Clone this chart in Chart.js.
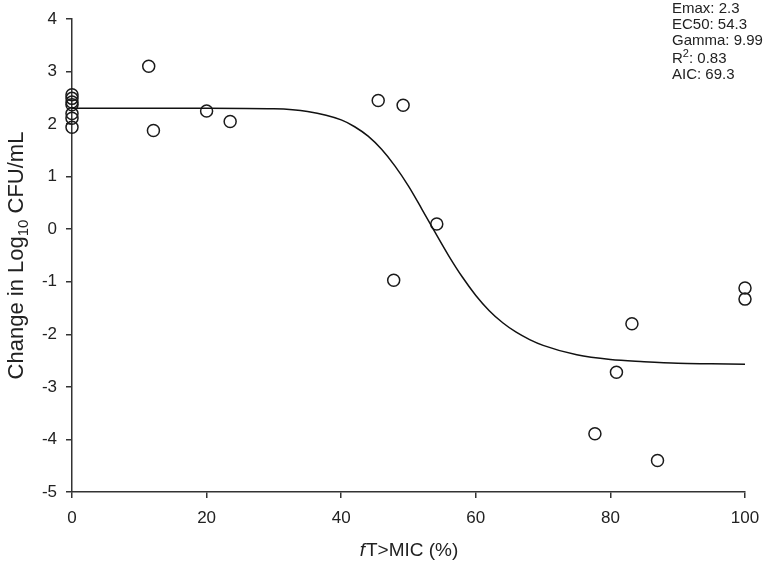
<!DOCTYPE html>
<html>
<head>
<meta charset="utf-8">
<script src="https://cdn.jsdelivr.net/npm/chart.js@4.4.0/dist/chart.umd.min.js"></script>
<style>
  html, body { margin:0; padding:0; background:#fff; }
  #wrap { width:766px; height:566px; position:relative; }
</style>
</head>
<body>
<div id="wrap"><canvas id="c" width="766" height="566"></canvas></div>
<script>
// observed data: fT>MIC (%) vs change in log10 CFU/mL
const obsX = [0, 0, 0, 0, 0, 0, 0, 11.4, 12.1, 20.0, 23.5, 45.5, 49.2, 54.2, 47.8, 77.7, 80.9, 83.2, 87.0, 100, 100];
const obsY = [2.56, 2.49, 2.42, 2.37, 2.20, 2.11, 1.94, 3.10, 1.88, 2.25, 2.05, 2.45, 2.36, 0.10, -0.97, -3.89, -2.72, -1.80, -4.40, -1.12, -1.33];

// fitted sigmoid Emax curve
const fitX = [0, 10, 20, 30, 35, 40, 42, 44, 46, 48, 50, 52, 54, 56, 58, 60, 62, 64, 66, 68, 70, 75, 80, 85, 90, 95, 100];
const fitY = [2.30, 2.30, 2.30, 2.29, 2.24, 2.08, 1.95, 1.77, 1.52, 1.20, 0.82, 0.38, -0.07, -0.51, -0.91, -1.26, -1.55, -1.78, -1.96, -2.10, -2.21, -2.39, -2.48, -2.52, -2.55, -2.56, -2.57];

const xTicks = [0, 20, 40, 60, 80, 100];
const yTicks = [-5, -4, -3, -2, -1, 0, 1, 2, 3, 4];
const statLines = ['Emax: 2.3', 'EC50: 54.3', 'Gamma: 9.99', 'R2: 0.83', 'AIC: 69.3'];

const FONT = '"Liberation Sans", Arial, sans-serif';
const INK = '#222';

const labelsPlugin = {
  id: 'labels',
  afterDraw(chart){
    const ctx = chart.ctx;
    const area = chart.chartArea;
    ctx.save();
    ctx.fillStyle = INK;
    ctx.textBaseline = 'alphabetic';

    // x title with italic f
    ctx.font = 'italic 19px ' + FONT;
    const fW = ctx.measureText('f').width;
    ctx.font = '19px ' + FONT;
    const rest = 'T>MIC (%)';
    const rW = ctx.measureText(rest).width;
    const cx = (area.left + area.right) / 2;
    let x0 = cx - (fW + rW) / 2;
    ctx.font = 'italic 19px ' + FONT;
    ctx.textAlign = 'left';
    ctx.fillText('f', x0, 556);
    ctx.font = '19px ' + FONT;
    ctx.fillText(rest, x0 + fW + 1, 556);

    // y title rotated with subscript 10
    ctx.save();
    ctx.translate(23, (area.top + area.bottom) / 2);
    ctx.rotate(-Math.PI / 2);
    const p1 = 'Change in Log', sub = '10', p2 = ' CFU/mL';
    ctx.font = '22px ' + FONT;
    const w1 = ctx.measureText(p1).width, w3 = ctx.measureText(p2).width;
    ctx.font = '15px ' + FONT;
    const w2 = ctx.measureText(sub).width;
    let sx = -(w1 + w2 + w3) / 2;
    ctx.font = '22px ' + FONT;
    ctx.fillText(p1, sx, 0);
    ctx.font = '15px ' + FONT;
    ctx.fillText(sub, sx + w1, 5);
    ctx.font = '22px ' + FONT;
    ctx.fillText(p2, sx + w1 + w2, 0);
    ctx.restore();

    // fit statistics, top right
    const lx = 672;
    const ys = [13, 29, 45, 63, 79];
    statLines.forEach((s, i) => {
      if (s.startsWith('R2')) {
        ctx.font = '15px ' + FONT;
        ctx.fillText('R', lx, ys[i]);
        const wr = ctx.measureText('R').width;
        ctx.font = '11px ' + FONT;
        ctx.fillText('2', lx + wr, ys[i] - 6);
        const w2s = ctx.measureText('2').width;
        ctx.font = '15px ' + FONT;
        ctx.fillText(s.slice(2), lx + wr + w2s, ys[i]);
      } else {
        ctx.font = '15px ' + FONT;
        ctx.fillText(s, lx, ys[i]);
      }
    });
    ctx.restore();
  }
};

new Chart(document.getElementById('c').getContext('2d'), {
  type: 'scatter',
  data: {
    datasets: [
      {
        label: 'fit',
        data: fitX.map((x, i) => ({ x, y: fitY[i] })),
        showLine: true,
        borderColor: '#111',
        borderWidth: 1.5,
        pointRadius: 0,
        cubicInterpolationMode: 'monotone',
        clip: false
      },
      {
        label: 'observed',
        data: obsX.map((x, i) => ({ x, y: obsY[i] })),
        showLine: false,
        pointRadius: 6,
        pointBorderWidth: 1.5,
        pointBorderColor: '#1a1a1a',
        pointBackgroundColor: 'rgba(255,255,255,0)',
        clip: false
      }
    ]
  },
  options: {
    responsive: false,
    animation: false,
    layout: { padding: { left: 0, top: 19, right: 21, bottom: 0 } },
    plugins: { legend: { display: false }, tooltip: { enabled: false } },
    scales: {
      x: {
        type: 'linear', min: 0, max: 100,
        afterBuildTicks: (s) => { s.ticks = xTicks.map(v => ({ value: v })); },
        afterFit: (s) => { s.height = 74; s.paddingLeft = 0; s.paddingRight = 0; },
        grid: { display: true, drawOnChartArea: false, drawTicks: true, tickLength: 6, color: '#333', lineWidth: 1.5 },
        border: { display: true, color: '#333', width: 1.5 },
        ticks: { color: INK, padding: 10, font: { family: FONT, size: 17 }, maxRotation: 0 }
      },
      y: {
        type: 'linear', min: -5, max: 4,
        afterBuildTicks: (s) => { s.ticks = yTicks.map(v => ({ value: v })); },
        afterFit: (s) => { s.width = 72; s.paddingTop = 0; s.paddingBottom = 0; },
        grid: { display: true, drawOnChartArea: false, drawTicks: true, tickLength: 6, color: '#333', lineWidth: 1.5 },
        border: { display: true, color: '#333', width: 1.5 },
        ticks: { color: INK, padding: 9, font: { family: FONT, size: 17 } }
      }
    }
  },
  plugins: [labelsPlugin]
});
</script>
</body>
</html>
